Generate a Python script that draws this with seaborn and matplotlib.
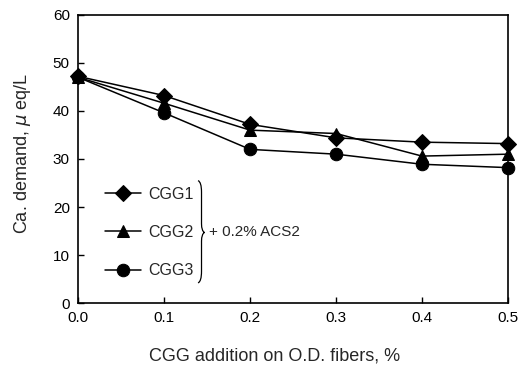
import matplotlib
matplotlib.use("Agg")
import matplotlib.pyplot as plt
from matplotlib.path import Path
from matplotlib.patches import PathPatch
import seaborn as sns
import pandas as pd

# Values
cgg_addition = [0.0, 0.1, 0.2, 0.3, 0.4, 0.5]
cgg1 = [47.2, 43.2, 37.2, 34.4, 33.5, 33.2]
cgg2 = [47.0, 41.6, 36.0, 35.3, 30.6, 31.0]
cgg3 = [47.0, 39.6, 32.0, 31.0, 28.9, 28.2]
series_names = ["CGG1", "CGG2", "CGG3"]
y_ticks = [0, 10, 20, 30, 40, 50, 60]
x_ticks = [0.0, 0.1, 0.2, 0.3, 0.4, 0.5]

df = pd.DataFrame({
    "x": cgg_addition * 3,
    "y": cgg1 + cgg2 + cgg3,
    "series": [s for s in series_names for _ in cgg_addition],
})

sns.set_style("ticks")
plt.rcParams["font.family"] = ["Liberation Sans", "DejaVu Sans"]

fig = plt.figure(figsize=(5.21, 3.71), dpi=100)
ax = fig.add_axes([0.150, 0.183, 0.825, 0.777])

markers = {"CGG1": "D", "CGG2": "^", "CGG3": "o"}
sizes = {"CGG1": 8, "CGG2": 9, "CGG3": 9}
for name in series_names:
    sub = df[df["series"] == name]
    sns.lineplot(data=sub, x="x", y="y", ax=ax, color="black", lw=1.1,
                 marker=markers[name], markersize=sizes[name],
                 markeredgecolor="black", markerfacecolor="black",
                 label=name, clip_on=False, zorder=3)

ax.set_xlim(0, 0.5)
ax.set_ylim(0, 60)
ax.set_xticks(x_ticks)
ax.set_xticklabels([f"{v:.1f}" for v in x_ticks])
ax.set_yticks(y_ticks)
ax.tick_params(direction="in", length=4, width=1, labelsize=11, colors="black", pad=6)
for s in ax.spines.values():
    s.set_linewidth(1.2)
    s.set_color("black")

ax.set_xlabel("CGG addition on O.D. fibers, %", fontsize=13)
ax.set_ylabel("Ca. demand, $\\mu$ eq/L", fontsize=13)
ax.xaxis.set_label_coords(0.456, -0.155)
ax.yaxis.set_label_coords(-0.105, 0.52)

leg = ax.legend(loc="center left", bbox_to_anchor=(0.03, 0.245), frameon=False,
                fontsize=11.5, handlelength=2.2, labelspacing=1.45, handletextpad=0.5)

# thin curly bracket grouping the legend entries
x0, ytop, ymid, ybot = 0.283, 0.425, 0.245, 0.07
verts = [(x0 - 0.004, ytop), (x0 + 0.004, ytop - 0.005), (x0 + 0.004, ytop - 0.04),
         (x0 + 0.004, ymid + 0.03),
         (x0 + 0.004, ymid + 0.005), (x0 + 0.011, ymid),
         (x0 + 0.004, ymid - 0.005), (x0 + 0.004, ymid - 0.03),
         (x0 + 0.004, ybot + 0.04),
         (x0 + 0.004, ybot + 0.005), (x0 - 0.004, ybot)]
codes = [Path.MOVETO, Path.CURVE3, Path.CURVE3, Path.LINETO,
         Path.CURVE3, Path.CURVE3, Path.CURVE3, Path.CURVE3,
         Path.LINETO, Path.CURVE3, Path.CURVE3]
ax.add_patch(PathPatch(Path(verts, codes), transform=ax.transAxes,
                       fill=False, lw=0.9, edgecolor="black"))
ax.text(0.305, ymid, "+ 0.2% ACS2", transform=ax.transAxes, fontsize=11,
        ha="left", va="center")

fig.savefig("out.png", dpi=100)
